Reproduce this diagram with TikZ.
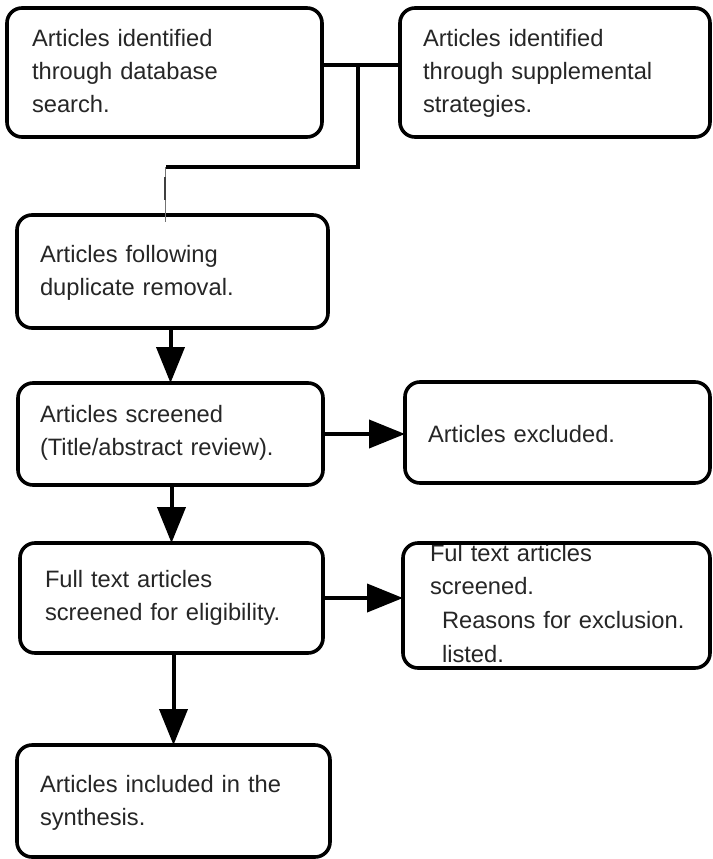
\documentclass[tikz,border=0pt]{standalone}
\usepackage{fontspec}
\setmainfont{Liberation Sans}
\usetikzlibrary{arrows.meta,calc}
\begin{document}
\begin{tikzpicture}[x=1pt,y=-1pt,
  box/.style={draw=black,line width=3.6pt,rounded corners=15pt,inner sep=0pt,outer sep=0pt,minimum width=#1},
  box/.default=300pt,
  txt/.style={anchor=base west,inner sep=0pt,outer sep=0pt,text width=300pt,align=left,
    text=black!85,font=\fontsize{23.7}{33}\selectfont},
  conn/.style={line width=4pt,line join=miter},
  arr/.style={line width=4pt,-{Triangle[length=36pt,width=28pt]}},
  thin/.style={line width=1pt,draw=black!55},
  tick/.style={line width=2.5pt,draw=black!75}]
\fill[white] (0,0) rectangle (712,859);
\useasboundingbox (0,0) rectangle (712,859);
% text
\node[txt] (T1) at (32,47) {Articles identified\\through database\\search.};
\node[txt] (T2) at (423,47) {Articles identified\\through supplemental\\strategies.};
\node[txt] (T3) at (40,262) {Articles following\\duplicate removal.};
\node[txt] (T4) at (40,422) {Articles screened\\(Title/abstract review).};
\node[txt] (T5) at (428,442) {Articles excluded.};
\node[txt] (T6) at (45,587) {Full text articles\\screened for eligibility.};
\node[txt,font=\fontsize{23.7}{33.7}\selectfont] (T7) at (430,561) {Ful text articles\\screened.\\\hspace*{12pt}Reasons for exclusion.\\\hspace*{12pt}listed.};
\node[txt] (T8) at (40,792) {Articles included in the\\synthesis.};
% boxes
\node[box=315pt,minimum height=129pt] (B1) at (164.5,72.5) {};
\node[box=310pt,minimum height=129pt] (B2) at (555,72.5) {};
\node[box=311pt,minimum height=113pt] (B3) at (172.5,271.5) {};
\node[box=305pt,minimum height=102pt] (B4) at (170.5,434) {};
\node[box=305pt,minimum height=101pt] (B5) at (557.5,432.5) {};
\node[box=303pt,minimum height=110pt] (B6) at (171.5,598) {};
\node[box=307pt,minimum height=125pt] (B7) at (556.5,605.5) {};
\node[box=313pt,minimum height=112pt] (B8) at (173.5,801) {};
% connectors
\coordinate (T) at (358,65);
\coordinate (J) at (166,167);
\draw[conn] ([yshift=7.5pt]B1.east) -- ([yshift=7.5pt]B1.east -| B2.west);
\draw[conn] (T) -- (T |- J) -- (J);
\draw[thin] ([xshift=-1pt]J) -- ([xshift=-1pt,yshift=-7pt]J |- B3.north);
\draw[tick] ([xshift=-1pt,yshift=-10pt]J) -- ([xshift=-1pt,yshift=-33pt]J);
\draw[arr] (B4.north |- B3.south) -- (B4.north);
\draw[arr] (B4.east) -- (B4.east -| B5.west);
\draw[arr] (B6.north |- B4.south) -- (B6.north);
\draw[arr] (B6.east) -- (B6.east -| B7.west);
\draw[arr] (B8.north |- B6.south) -- (B8.north);
\end{tikzpicture}
\end{document}
